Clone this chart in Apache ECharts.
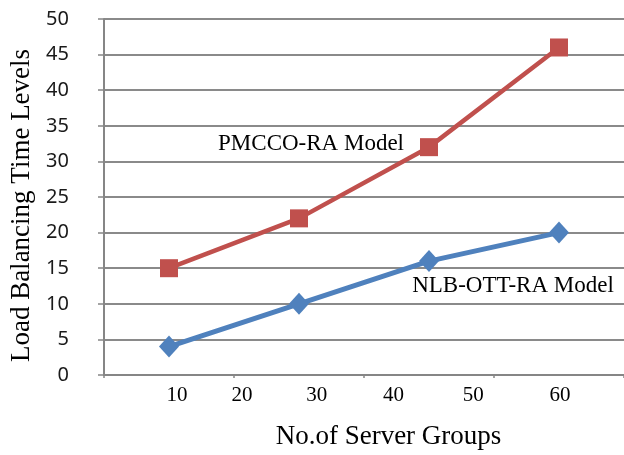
<!DOCTYPE html>
<html>
<head>
<meta charset="utf-8">
<script src="https://cdn.jsdelivr.net/npm/echarts@6/dist/echarts.min.js"></script>
<style>
  html, body { margin: 0; padding: 0; background: #fff; }
  #chart { width: 624px; height: 455px; }
</style>
</head>
<body>
<div id="chart"></div>
<script>
// Four measurement slots along the x axis
const slots = ['1', '2', '3', '4'];

// Load balancing time levels per slot
const pmccoRA = [15, 22, 32, 46];
const nlbOttRA = [4, 10, 16, 20];

// Tick labels printed under the x axis
const xTickLabels = ['10', '20', '30', '40', '50', '60'];

// Y axis range
const yMin = 0, yMax = 50, yStep = 5;

// Where the x tick labels sit, in slot units from the left edge of the plot
const xTickAt = [0.561, 1.061, 1.636, 2.227, 2.841, 3.508];

const serif = '"Liberation Serif", "Times New Roman", serif';
const sans = '"Noto Sans", "Open Sans", sans-serif';
const axisGray = '#868686';

const pmccoData = pmccoRA.map((v, i) => i === 2 ? {
  value: v,
  label: {
    show: true, formatter: 'PMCCO-RA Model', position: 'left', distance: 16,
    offset: [0, -3], color: '#000', fontFamily: serif, fontSize: 23
  }
} : v);

const nlbData = nlbOttRA.map((v, i) => i === 3 ? {
  value: v,
  label: {
    show: true, formatter: 'NLB-OTT-RA Model', position: 'bottom', distance: 31,
    offset: [-46, 0], color: '#000', fontFamily: serif, fontSize: 23
  }
} : v);

const chart = echarts.init(document.getElementById('chart'), null, { renderer: 'canvas' });
chart.setOption({
  animation: false,
  backgroundColor: '#fff',
  grid: { left: 98, top: 19, width: 529, height: 360, containLabel: false },
  xAxis: [
    {
      type: 'category',
      data: slots,
      boundaryGap: true,
      axisLine: { lineStyle: { color: axisGray, width: 2 } },
      axisTick: { show: true, length: 3, lineStyle: { color: axisGray, width: 1.5 } },
      axisLabel: { show: false },
      splitLine: { show: false }
    },
    {
      type: 'value',
      min: 0, max: 4,
      position: 'bottom',
      axisLine: { show: false },
      axisTick: { show: false },
      splitLine: { show: false },
      axisLabel: {
        customValues: xTickAt,
        formatter: (v) => {
          let k = 0, best = Infinity;
          xTickAt.forEach((p, i) => { const d = Math.abs(p - v); if (d < best) { best = d; k = i; } });
          return xTickLabels[k];
        },
        margin: 10,
        color: '#000', fontFamily: serif, fontSize: 21
      },
      name: 'No.of Server Groups',
      nameLocation: 'middle',
      nameGap: 48,
      nameTextStyle: { color: '#000', fontFamily: serif, fontSize: 27, padding: [0, 0, 0, 49] }
    }
  ],
  yAxis: {
    type: 'value',
    min: yMin, max: yMax, interval: yStep,
    axisLine: { show: true, lineStyle: { color: axisGray, width: 2 } },
    axisTick: { show: true, length: 6, lineStyle: { color: axisGray, width: 1.5 } },
    axisLabel: { margin: 35, color: '#1a1a1a', fontFamily: sans, fontSize: 20 },
    splitLine: { show: true, lineStyle: { color: '#8a8a8a', width: 2 } },
    name: 'Load Balancing Time Levels',
    nameLocation: 'middle',
    nameGap: 69,
    nameTextStyle: { color: '#000', fontFamily: serif, fontSize: 27, padding: [0, 17, 0, 0] }
  },
  series: [
    {
      name: 'PMCCO-RA Model',
      type: 'line',
      xAxisIndex: 0,
      data: pmccoData,
      symbol: 'rect',
      symbolSize: 18,
      itemStyle: { color: '#C0504D' },
      lineStyle: { color: '#C0504D', width: 4.5 },
      z: 3
    },
    {
      name: 'NLB-OTT-RA Model',
      type: 'line',
      xAxisIndex: 0,
      data: nlbData,
      symbol: 'diamond',
      symbolSize: [20, 22],
      itemStyle: { color: '#4F81BD' },
      lineStyle: { color: '#4F81BD', width: 5 },
      z: 3
    }
  ]
});
</script>
</body>
</html>
